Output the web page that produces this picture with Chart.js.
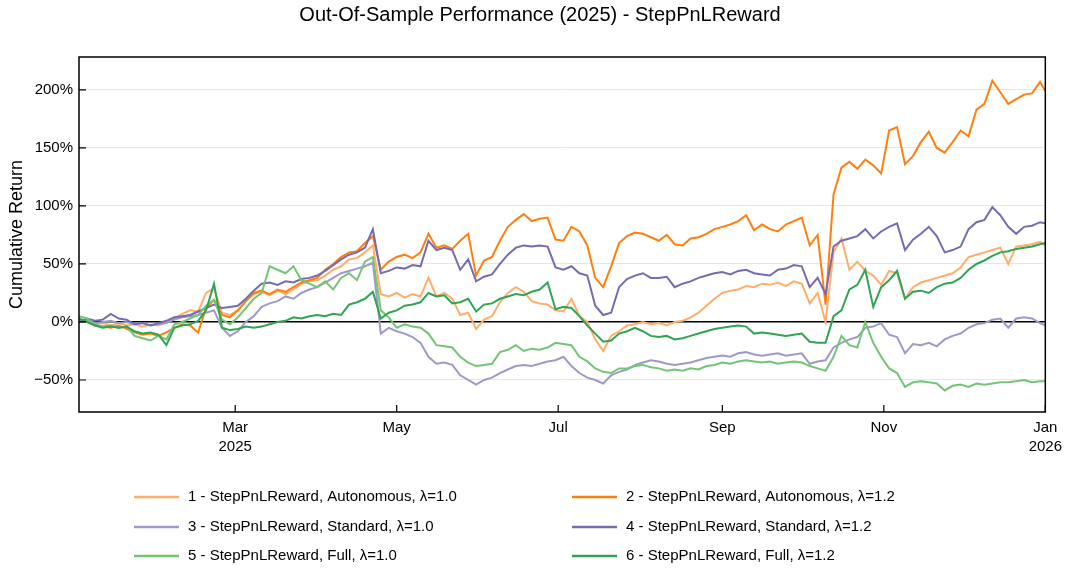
<!DOCTYPE html>
<html>
<head>
<meta charset="utf-8">
<script src="https://cdn.jsdelivr.net/npm/chart.js@4.4.0/dist/chart.umd.min.js"></script>
<style>
  body { margin: 0; background: #fff; }
  #wrap { width: 1068px; height: 568px; }
</style>
</head>
<body>
<div id="wrap"><canvas id="perf" width="1068" height="568"></canvas></div>
<script>
// days since 2025-01-01
const days = [
  0,3,6,9,12,15,18,21,24,27,
  30,33,36,39,42,45,48,51,54,57,
  60,63,66,69,72,75,78,81,84,87,
  90,93,96,99,102,105,108,111,114,117,
  120,123,126,129,132,135,138,141,144,147,
  150,153,156,159,162,165,168,171,174,177,
  180,183,186,189,192,195,198,201,204,207,
  210,213,216,219,222,225,228,231,234,237,
  240,243,246,249,252,255,258,261,264,267,
  270,273,276,279,282,285,288,291,294,297,
  300,303,306,309,312,315,318,321,324,327,
  330,333,336,339,342,345,348,351,354,357,
  360,363,365
];

// cumulative return, %
const autoL10 = [
  0,2,-2,-1,-3,-1,-3,-2,-4,-2,
  -3,0,3,7,10,9,25,29,8,6,
  10,18,24,26,23,27,24,28,33,35,
  36,40,45,48,54,55,60,66,24,22,
  25,21,24,22,38,22,25,20,6,8,
  -6,2,5,17,25,30,26,18,16,15,
  10,9,20,5,0,-15,-25,-12,-8,-3,
  -2,0,-2,-1,-3,0,1,4,8,14,
  20,25,27,28,31,30,33,32,34,31,
  35,33,16,25,0,60,72,45,52,44,
  40,32,44,42,20,30,34,36,38,40,
  42,47,56,58,60,62,64,50,65,66,
  67,69,66
];
const autoL12 = [
  0,2,-3,-4,-5,-3,-6,-9,-11,-10,
  -12,-9,-5,-2,-3,-9,12,19,6,4,
  10,18,25,27,24,28,26,30,34,36,
  38,45,50,56,60,61,68,74,45,52,
  56,58,55,60,76,64,66,63,70,76,
  40,53,56,70,82,88,93,87,89,90,
  71,70,82,78,66,38,30,48,68,74,
  77,76,73,70,75,67,66,72,73,76,
  80,82,84,87,92,79,84,80,78,84,
  87,90,66,75,15,110,133,138,132,140,
  135,128,165,168,136,143,155,164,150,146,
  155,165,160,183,188,208,198,188,192,196,
  197,207,199
];
const stdL10 = [
  0,2,-1,0,1,-1,0,-2,-1,-3,
  -2,-1,2,4,5,6,8,10,-5,-12,
  -8,0,5,13,16,18,22,20,25,28,
  30,34,38,42,44,46,48,51,-10,-5,
  -8,-10,-13,-18,-30,-36,-35,-37,-46,-50,
  -54,-50,-48,-44,-41,-38,-37,-38,-36,-34,
  -33,-30,-38,-44,-48,-50,-53,-46,-43,-41,
  -37,-35,-33,-34,-36,-37,-36,-35,-33,-31,
  -30,-29,-30,-27,-26,-28,-29,-28,-27,-29,
  -28,-27,-36,-34,-33,-22,-18,-15,-13,-5,
  -4,-1,-11,-13,-27,-19,-20,-18,-21,-15,
  -12,-10,-5,-2,-1,2,3,-5,3,4,
  3,-1,-3
];
const stdL12 = [
  0,3,1,2,7,3,2,-2,-1,-3,
  -1,1,4,5,6,9,12,15,12,13,
  14,20,27,33,34,32,35,34,37,38,
  40,44,49,54,58,60,64,80,42,44,
  47,46,49,48,70,62,64,62,45,54,
  35,39,41,50,58,64,66,65,66,65,
  47,45,48,42,40,14,6,8,30,37,
  40,42,38,38,39,30,33,35,38,40,
  42,43,41,44,45,42,41,40,45,46,
  49,48,30,38,24,65,70,72,74,80,
  72,78,82,85,62,71,76,82,74,60,
  62,65,80,86,88,99,92,82,76,82,
  83,86,85
];
const fullL10 = [
  5,3,-2,-4,-3,-5,-4,-12,-14,-16,
  -12,-15,-2,0,3,6,14,19,2,-2,
  4,12,20,25,48,45,42,48,36,33,
  30,35,28,38,42,36,52,56,10,4,
  -5,-2,-4,-5,-10,-20,-21,-22,-30,-35,
  -38,-37,-36,-26,-24,-20,-25,-23,-24,-22,
  -18,-19,-20,-30,-34,-40,-43,-44,-40,-40,
  -38,-37,-39,-40,-42,-41,-42,-40,-41,-38,
  -37,-35,-36,-34,-33,-34,-35,-34,-36,-35,
  -34,-35,-38,-40,-42,-30,-12,-20,-22,0,
  -18,-30,-40,-44,-56,-52,-51,-52,-53,-59,
  -55,-54,-56,-53,-54,-53,-52,-52,-51,-50,
  -52,-51,-51
];
const fullL12 = [
  3,0,-3,-5,-4,-5,-4,-8,-10,-9,
  -11,-20,-5,-3,-2,1,10,33,-5,-7,
  -6,-4,-5,-4,-2,0,1,4,3,5,
  6,5,7,6,15,17,20,26,3,8,
  10,14,15,17,25,22,23,16,17,20,
  9,15,16,20,22,24,23,26,28,34,
  11,13,12,5,-3,-10,-17,-16,-10,-8,
  -5,-8,-12,-13,-12,-15,-14,-12,-10,-8,
  -6,-5,-4,-3,-4,-10,-9,-10,-11,-12,
  -11,-10,-17,-18,-18,5,10,28,32,45,
  13,30,36,44,20,26,27,25,30,33,
  34,38,45,50,53,57,60,61,63,64,
  65,67,68
];

const seriesNames = [
  '1 - StepPnLReward, Autonomous, λ=1.0',
  '2 - StepPnLReward, Autonomous, λ=1.2',
  '3 - StepPnLReward, Standard, λ=1.0',
  '4 - StepPnLReward, Standard, λ=1.2',
  '5 - StepPnLReward, Full, λ=1.0',
  '6 - StepPnLReward, Full, λ=1.2'
];
const seriesValues = [autoL10, autoL12, stdL10, stdL12, fullL10, fullL12];
const seriesColors = ['#fdae6b', '#ff7f0e', '#9e9ac8', '#756bb1', '#74c476', '#31a354'];

const tickDays = [59, 120, 181, 243, 304, 365];
const tickLabels = [['Mar', '2025'], 'May', 'Jul', 'Sep', 'Nov', ['Jan', '2026']];
const yTickValues = [-50, 0, 50, 100, 150, 200];

const FONT = '"Liberation Sans", Arial, sans-serif';

const decor = {
  id: 'decor',
  afterDraw(chart) {
    const { ctx, chartArea: a, scales: { x, y } } = chart;
    ctx.save();
    ctx.strokeStyle = '#000';
    ctx.lineWidth = 1.2;
    ctx.beginPath();
    yTickValues.forEach(v => {
      const py = y.getPixelForValue(v);
      ctx.moveTo(a.left, py); ctx.lineTo(a.left + 7, py);
    });
    tickDays.forEach(d => {
      const px = x.getPixelForValue(d);
      ctx.moveTo(px, a.bottom); ctx.lineTo(px, a.bottom - 7);
    });
    ctx.stroke();

    ctx.lineWidth = 1.5;
    ctx.strokeRect(a.left, a.top, a.right - a.left, a.bottom - a.top);

    ctx.fillStyle = '#000';
    ctx.textAlign = 'center';
    ctx.textBaseline = 'middle';
    ctx.font = '20px ' + FONT;
    ctx.fillText('Out-Of-Sample Performance (2025) - StepPnLReward', 540, 15);

    ctx.save();
    ctx.translate(17, (a.top + a.bottom) / 2);
    ctx.rotate(-Math.PI / 2);
    ctx.font = '18px ' + FONT;
    ctx.fillText('Cumulative Return', 0, 0);
    ctx.restore();

    // legend, two columns
    ctx.font = '15px ' + FONT;
    ctx.textAlign = 'left';
    const cols = [134, 572];
    const rows = [497, 527, 556];
    seriesNames.forEach((name, i) => {
      const cx = cols[i % 2], cy = rows[Math.floor(i / 2)];
      ctx.strokeStyle = seriesColors[i];
      ctx.lineWidth = 2.5;
      ctx.beginPath();
      ctx.moveTo(cx, cy); ctx.lineTo(cx + 45, cy);
      ctx.stroke();
      ctx.fillText(name, cx + 54, cy);
    });
    ctx.restore();
  }
};

new Chart(document.getElementById('perf'), {
  type: 'line',
  data: {
    datasets: seriesValues.map((vals, i) => ({
      label: seriesNames[i],
      data: days.map((d, j) => ({ x: d, y: vals[j] })),
      borderColor: seriesColors[i],
      backgroundColor: seriesColors[i],
      borderWidth: 2,
      pointRadius: 0,
      tension: 0,
      fill: false,
      order: 5 - i
    }))
  },
  options: {
    responsive: false,
    animation: false,
    devicePixelRatio: 1,
    layout: { padding: { top: 57, right: 20, bottom: 0, left: 0 } },
    plugins: {
      legend: { display: false },
      title: { display: false },
      tooltip: { enabled: false }
    },
    scales: {
      x: {
        type: 'linear',
        min: 0,
        max: 365,
        afterFit: s => { s.height = 156; },
        afterBuildTicks: s => { s.ticks = tickDays.map(v => ({ value: v })); },
        grid: { display: false, drawTicks: false },
        border: { display: false },
        ticks: {
          autoSkip: false,
          maxRotation: 0,
          padding: 6,
          color: '#000',
          font: { family: FONT, size: 15, lineHeight: 1.3 },
          callback: v => tickLabels[tickDays.indexOf(v)]
        }
      },
      y: {
        min: -77.6,
        max: 228.4,
        afterFit: s => { s.width = 79; },
        afterBuildTicks: s => { s.ticks = yTickValues.map(v => ({ value: v })); },
        grid: {
          drawTicks: false,
          color: c => c.tick && c.tick.value === 0 ? '#000' : '#e6e6e6',
          lineWidth: c => c.tick && c.tick.value === 0 ? 1.5 : 1
        },
        border: { display: false },
        ticks: {
          padding: 6,
          color: '#000',
          font: { family: FONT, size: 15 },
          callback: v => String(v).replace('-', '\u2212') + '%'
        }
      }
    }
  },
  plugins: [decor]
});
</script>
</body>
</html>
